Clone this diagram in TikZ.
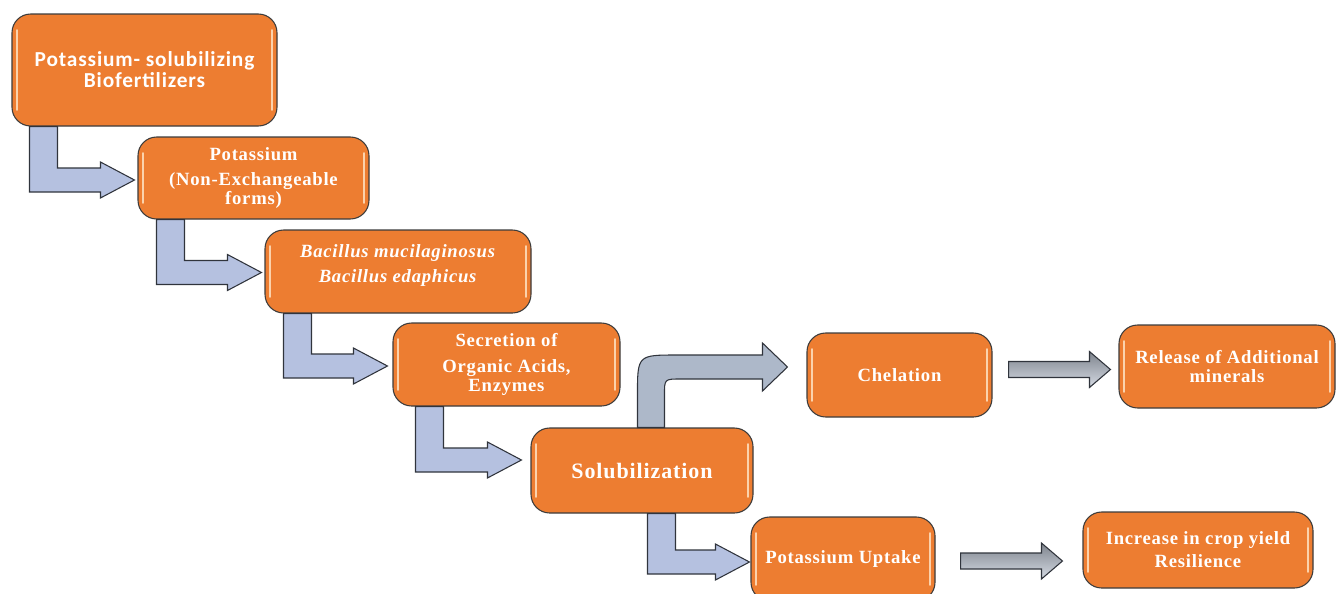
\documentclass[tikz,border=0pt]{standalone}
\usepackage{fontspec}
\setmainfont{Liberation Serif}[LetterSpace=4]
\newfontfamily\calibrifont{Carlito}[LetterSpace=4]
\usetikzlibrary{calc}

\definecolor{boxorange}{HTML}{ED7D31}
\definecolor{boxedge}{HTML}{3C3C3C}
\definecolor{boxshine}{HTML}{FBD2AC}
\definecolor{elbowfill}{HTML}{B5C1E0}
\definecolor{arrowedge}{HTML}{30343C}
\definecolor{bendfill}{HTML}{ADB8C9}
\definecolor{greytop}{HTML}{7E848D}
\definecolor{greybottom}{HTML}{D6DBE4}

\tikzset{
  stepbox/.style={draw=boxedge, line width=0.8pt, fill=boxorange, rounded corners=14pt,
    text=white, font=\bfseries\fontsize{14}{14.5}\selectfont, align=center, inner sep=0pt,
    path picture={
      \draw[boxshine, line width=1.3pt, line cap=round]
        ([xshift=4pt,yshift=-12pt]path picture bounding box.north west) -- ([xshift=4pt,yshift=12pt]path picture bounding box.south west)
        ([xshift=-4pt,yshift=-12pt]path picture bounding box.north east) -- ([xshift=-4pt,yshift=12pt]path picture bounding box.south east);
    }},
  elbow/.style={draw=arrowedge, line width=0.8pt, fill=elbowfill},
  bentarrow/.style={draw=arrowedge, line width=0.8pt, fill=bendfill},
  flat/.style={draw=arrowedge, line width=0.8pt, top color=greytop, bottom color=greybottom},
}

% down-then-right block arrow
\newcommand{\elbowarrow}[2]{%
  \coordinate (s) at #1;
  \coordinate (t) at #2;
  \draw[elbow] ($(s)+(-14,0)$) -- ($(s|-t)+(-14,12)$) -- ($(t)+(-34,12)$) -- ($(t)+(-34,18)$) -- (t)
    -- ($(t)+(-34,-18)$) -- ($(t)+(-34,-12)$) -- ($(s|-t)+(14,-12)$) -- ($(s)+(14,0)$) -- cycle;}

% straight block arrow
\newcommand{\flatarrow}[2]{%
  \coordinate (s) at #1;
  \coordinate (t) at #2;
  \draw[flat] ($(s|-t)+(0,-8)$) -- ($(t)+(-21,-8)$) -- ($(t)+(-21,-18)$) -- (t)
    -- ($(t)+(-21,18)$) -- ($(t)+(-21,8)$) -- ($(s|-t)+(0,8)$) -- cycle;}

\begin{document}
\begin{tikzpicture}[x=0.75pt, y=-0.75pt]
    \useasboundingbox (0,0) rectangle (1336,593);

    % Steps down the left
    \node[stepbox, minimum width=198.75pt, minimum height=84pt,
          font=\calibrifont\bfseries\fontsize{16}{15.75}\selectfont] (b1) at (144.5,70)
          {Potassium- solubilizing\\Biofertilizers};
    \node[stepbox, minimum width=173.25pt, minimum height=61.5pt] (b2) at (253.5,178)
          {Potassium\\[4.5pt](Non-Exchangeable\\forms)};
    \node[stepbox, minimum width=199.5pt, minimum height=62.25pt] (b3) at (398,271.5)
          {\textit{Bacillus mucilaginosus}\\[4.5pt]\textit{Bacillus edaphicus}\\[-2.5pt]\mbox{}};
    \node[stepbox, minimum width=170.25pt, minimum height=62.25pt] (b4) at (506.5,364.5)
          {Secretion of\\[4.5pt]Organic Acids,\\Enzymes};
    \node[stepbox, minimum width=166.5pt, minimum height=63.75pt,
          font=\bfseries\fontsize{16.5}{18}\selectfont] (b5) at (642,470.5)
          {Solubilization};

    % Branches to the right
    \node[stepbox, minimum width=138.75pt, minimum height=63pt] (b6) at (899.5,375) {Chelation};
    \node[stepbox, minimum width=162pt, minimum height=62.25pt] (b7) at (1227,366.5)
          {Release of Additional\\minerals};
    \node[stepbox, minimum width=138pt, minimum height=63pt] (b8) at (843,559) {Potassium Uptake};
    \node[stepbox, minimum width=172.5pt, minimum height=57pt] (b9) at (1198,550)
          {Increase in crop yield\\[2.75pt]Resilience};

    % Elbow arrows
    \elbowarrow{($(b1.south west)+(32,0)$)}{($(b2.west)+(-3,2)$)}
    \elbowarrow{($(b2.south west)+(33,0)$)}{($(b3.west)+(-3,1)$)}
    \elbowarrow{($(b3.south west)+(33,0)$)}{($(b4.west)+(-5,1.5)$)}
    \elbowarrow{($(b4.south west)+(37,0)$)}{($(b5.west)+(-9,-10.5)$)}
    \elbowarrow{($(b5.south west)+(131,0)$)}{($(b8.west)+(-1,3)$)}

    % Bent arrow up to chelation
    \coordinate (s) at ($(b5.north west)+(120.5,0)$);
    \coordinate (t) at ($(b6.west)+(-19,-8)$);
    \draw[bentarrow] ($(s)+(-13.5,0)$) -- ($(s|-t)+(-13.5,28)$)
        .. controls ($(s|-t)+(-13.5,-12)$) .. ($(s|-t)+(26.5,-12)$)
        -- ($(t)+(-25,-12)$) -- ($(t)+(-25,-24)$) -- (t) -- ($(t)+(-25,24)$) -- ($(t)+(-25,12)$)
        -- ($(s|-t)+(29.5,12)$) .. controls ($(s|-t)+(13.5,12)$) .. ($(s|-t)+(13.5,28)$)
        -- ($(s)+(13.5,0)$) -- cycle;

    % Straight arrows
    \flatarrow{($(b6.east)+(16,-5)$)}{($(b7.west)+(-8,3)$)}
    \flatarrow{($(b8.east)+(25,1)$)}{($(b9.west)+(-20,11)$)}
\end{tikzpicture}
\end{document}
